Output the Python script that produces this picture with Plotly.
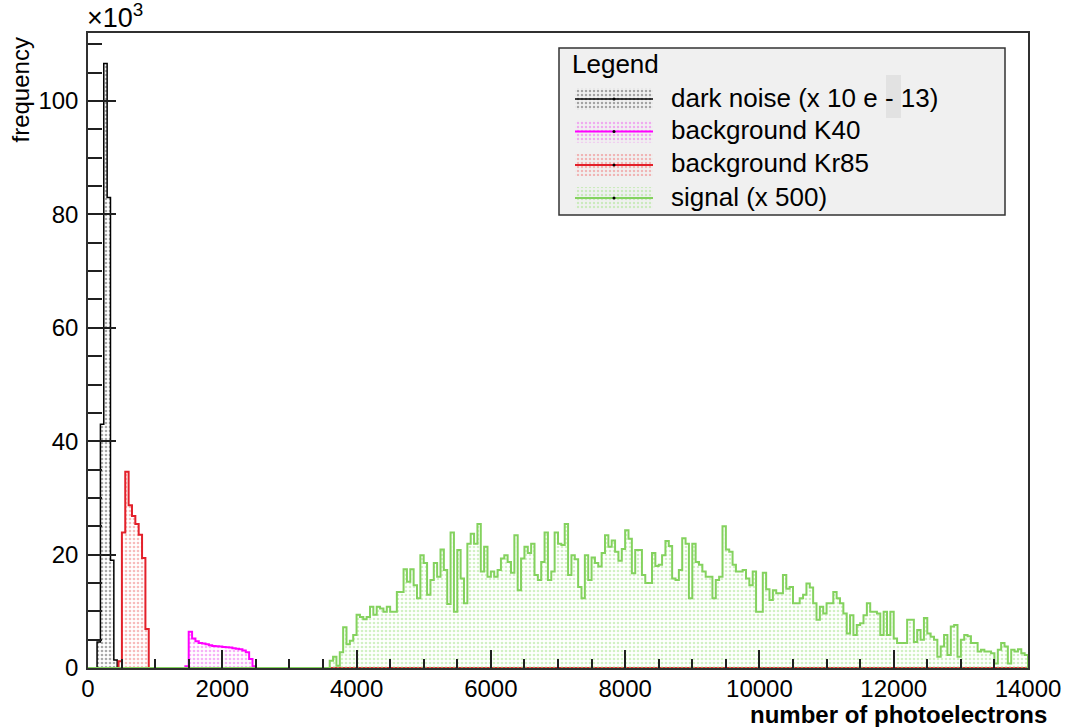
import plotly.graph_objects as go

# ---- histogram data (counts in units of 10^3, bin width 50 photoelectrons) ----
BIN_WIDTH = 50
X_MAX = 14000
Y_MAX = 112

dark_start = 135
dark_counts_k = [4.6, 43.0, 106.6, 83.0, 19.0, 1.4]

k40_start = 1450
k40_counts_k = [0.3, 6.4, 5.2, 4.7, 4.4, 4.3, 4.2, 4.0, 3.9, 3.85, 3.8, 3.7,
                3.65, 3.6, 3.5, 3.4, 3.3, 3.1, 2.8, 1.6, 0.3]

kr85_start = 455
kr85_counts_k = [1.2, 23.9, 34.6, 28.7, 26.8, 25.4, 23.5, 19.4, 6.9]

signal_start = 3600
signal_counts_k = [
    1.3, 2.0, 0.4, 2.8, 7.2, 4.2, 4.8, 5.8, 9.4, 9.0,
    8.6, 9.0, 10.8, 9.4, 10.8, 10.5, 9.9, 10.8, 9.9, 9.9,
    13.4, 13.4, 17.4, 15.2, 17.4, 14.6, 12.3, 19.9, 18.5, 12.9,
    15.5, 18.5, 16.1, 20.9, 17.3, 11.3, 23.9, 9.9, 20.8, 15.8,
    11.4, 21.9, 23.7, 21.9, 25.4, 17.0, 21.4, 16.1, 17.0, 16.1,
    17.3, 19.3, 19.9, 18.7, 16.8, 23.4, 13.7, 19.3, 21.4, 20.3,
    21.9, 16.4, 15.5, 18.7, 23.9, 15.5, 17.0, 23.9, 21.9, 21.7,
    25.4, 16.4, 19.9, 19.2, 14.3, 12.3, 19.9, 15.5, 19.5, 18.5,
    17.9, 20.3, 23.4, 21.4, 22.5, 20.5, 18.9, 21.0, 24.3, 22.8,
    16.7, 20.8, 20.8, 16.4, 15.0, 15.0, 20.3, 18.0, 18.2, 19.9,
    22.4, 21.5, 15.8, 15.5, 17.3, 22.9, 21.9, 12.3, 21.9, 18.7,
    18.2, 17.0, 16.1, 16.1, 12.3, 15.5, 16.1, 25.0, 20.9, 20.5,
    18.2, 17.0, 17.0, 17.3, 15.8, 14.6, 17.0, 9.9, 9.9, 16.8,
    13.9, 12.0, 13.7, 13.2, 13.2, 16.4, 14.0, 14.3, 11.4, 11.4,
    12.3, 12.9, 14.9, 14.2, 11.4, 8.5, 10.8, 9.6, 11.4, 11.4,
    13.4, 12.3, 11.4, 9.6, 6.1, 9.3, 5.8, 7.6, 7.9, 9.3,
    11.4, 9.9, 9.9, 9.6, 5.8, 9.9, 5.8, 9.9, 5.2, 4.4,
    4.4, 4.4, 8.5, 8.5, 4.6, 6.7, 5.0, 8.8, 6.1, 5.5,
    5.0, 2.0, 3.8, 5.8, 2.3, 7.3, 7.6, 2.0, 5.0, 5.8,
    5.6, 4.4, 4.4, 2.9, 3.2, 2.9, 2.9, 2.6, 0.8, 3.2,
    4.4, 3.8, 0.8, 3.2, 2.9, 3.3, 2.6, 2.3,
]

series_names = ["dark noise (x 10 e - 13)", "background K40",
                "background Kr85", "signal (x 500)"]
line_colors = ["#000000", "#ff00ff", "#e3202a", "#84d25e"]
dot_colors = ["#555555", "#ee66ee", "#f07a7a", "#a6e48a"]
line_widths = [1.5, 2.0, 2.0, 2.0]

x_ticks = list(range(0, 14001, 2000))
y_ticks = list(range(0, 101, 20))

FONT = "Liberation Sans, Arial, Helvetica, sans-serif"

# plot area in pixels (for placing the legend box and titles)
L, R, T, B = 88, 39, 33, 59
W, H = 1067, 727
PW, PH = W - L - R, H - T - B


def px_x(px):
    return (px - L) / PW


def px_y(py):
    return (H - B - py) / PH


def step_xy(start, counts):
    edges = [start + BIN_WIDTH * i for i in range(len(counts) + 1)]
    xs = [0] + edges[:-1] + [edges[-1], X_MAX]
    ys = [0] + list(counts) + [0, 0]
    return xs, ys


fig = go.Figure()

hists = [(dark_start, dark_counts_k), (k40_start, k40_counts_k),
         (kr85_start, kr85_counts_k), (signal_start, signal_counts_k)]

for (start, counts), name, lc, dc, lw in zip(hists, series_names, line_colors,
                                              dot_colors, line_widths):
    xs, ys = step_xy(start, counts)
    fig.add_trace(go.Scatter(
        x=xs, y=ys, mode="lines", name=name,
        line=dict(color=lc, width=lw, shape="hv"),
        fill="tozeroy", fillcolor="rgba(0,0,0,0)",
        fillpattern=dict(shape=".", fgcolor=dc, bgcolor="rgba(0,0,0,0)",
                         size=4, solidity=0.35),
        showlegend=False, hoverinfo="skip",
    ))

# ---- legend box drawn by hand ----
box_x0, box_x1, box_y0, box_y1 = 559, 1005, 48, 215
row_y = [99, 131.5, 165, 198]
text_y = [98, 130, 163, 197]
samp_x0, samp_x1 = 575, 653

shapes = [dict(type="rect", xref="paper", yref="paper",
               x0=px_x(box_x0), x1=px_x(box_x1),
               y0=px_y(box_y1), y1=px_y(box_y0),
               fillcolor="#f0f0f0", line=dict(color="#333333", width=1.5),
               layer="below"),
          dict(type="rect", xref="paper", yref="paper",
               x0=px_x(886), x1=px_x(901), y0=px_y(118), y1=px_y(75),
               fillcolor="#e2e2e2", line=dict(width=0), layer="above")]

for ry, lc, dc, lw in zip(row_y, line_colors, dot_colors, line_widths):
    xa, xb = px_x(samp_x0), px_x(samp_x1)
    ya, yb = px_y(ry + 11), px_y(ry - 11)
    fig.add_trace(go.Scatter(
        x=[xa, xb, xb, xa, xa], y=[ya, ya, yb, yb, ya], xaxis="x2", yaxis="y2",
        mode="lines", line=dict(width=0), fill="toself",
        fillcolor="rgba(0,0,0,0)",
        fillpattern=dict(shape=".", fgcolor=dc, bgcolor="rgba(0,0,0,0)",
                         size=4, solidity=0.3),
        showlegend=False, hoverinfo="skip"))
    fig.add_trace(go.Scatter(
        x=[xa, (xa + xb) / 2, xb], y=[px_y(ry)] * 3, xaxis="x2", yaxis="y2",
        mode="lines", line=dict(color=lc, width=lw),
        showlegend=False, hoverinfo="skip"))
    fig.add_trace(go.Scatter(
        x=[(xa + xb) / 2], y=[px_y(ry)], xaxis="x2", yaxis="y2",
        mode="markers", marker=dict(color="#000000", size=3),
        showlegend=False, hoverinfo="skip"))

annotations = [
    dict(text="Legend", x=px_x(570), y=px_y(64), xref="paper", yref="paper",
         xanchor="left", yanchor="middle", showarrow=False,
         font=dict(family=FONT, size=26, color="black")),
    dict(text="×10<sup>3</sup>", x=px_x(85), y=1, xref="paper", yref="paper",
         xanchor="left", yanchor="bottom", yshift=-2, showarrow=False,
         font=dict(family=FONT, size=27, color="black")),
    dict(text="frequency", x=px_x(20), y=px_y(36), xref="paper", yref="paper",
         xanchor="center", yanchor="top", textangle=-90, showarrow=False,
         font=dict(family=FONT, size=24, color="black")),
    dict(text="<b>number of photoelectrons</b>", x=px_x(1049), y=px_y(714),
         xref="paper", yref="paper", xanchor="right", yanchor="middle",
         showarrow=False, font=dict(family=FONT, size=24, color="black")),
]
for ty, name in zip(text_y, series_names):
    annotations.append(dict(text=name, x=px_x(669), y=px_y(ty), xref="paper",
                            yref="paper", xanchor="left", yanchor="middle",
                            showarrow=False,
                            font=dict(family=FONT, size=26, color="black")))

axis_common = dict(showgrid=False, zeroline=False, showline=True, mirror=True,
                   automargin=False,
                   linecolor="#303030", linewidth=1.5, ticks="inside",
                   tickcolor="#202020", tickwidth=1.5,
                   tickfont=dict(family=FONT, size=24, color="black"))

fig.update_layout(
    width=W, height=H,
    margin=dict(l=L, r=R, t=T, b=B, pad=0, autoexpand=False),
    paper_bgcolor="white", plot_bgcolor="white",
    showlegend=False,
    shapes=shapes, annotations=annotations,
    xaxis=dict(range=[0, X_MAX], tickvals=x_ticks, tickformat="d",
               ticklen=18, ticklabelstandoff=-2,
               minor=dict(dtick=500, ticklen=9, ticks="inside",
                          tickcolor="#202020", tickwidth=1.5),
               **axis_common),
    yaxis=dict(range=[0, Y_MAX], tickvals=y_ticks, tickformat="d",
               ticklen=28, ticklabelstandoff=3,
               minor=dict(dtick=5, ticklen=14, ticks="inside",
                          tickcolor="#202020", tickwidth=1.5),
               **axis_common),
    xaxis2=dict(overlaying="x", range=[0, 1], visible=False),
    yaxis2=dict(overlaying="y", range=[0, 1], visible=False),
)

fig.write_html("out.html")
